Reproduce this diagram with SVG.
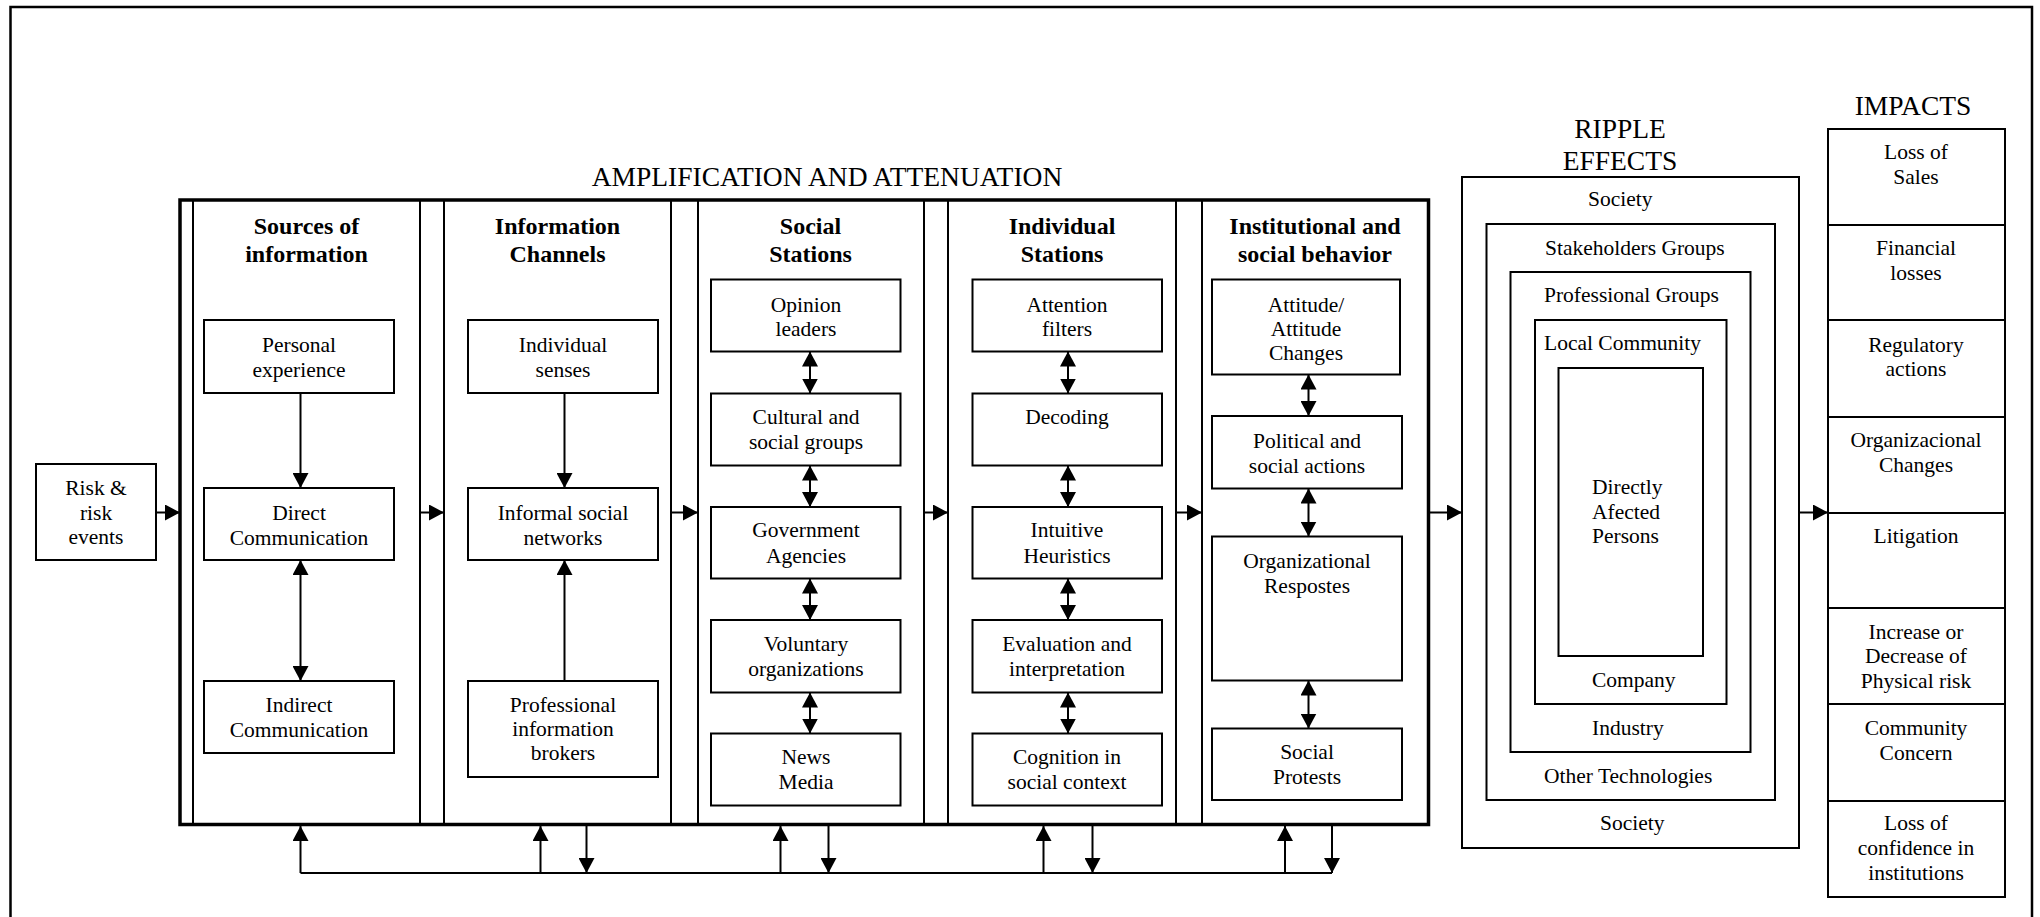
<svg xmlns="http://www.w3.org/2000/svg" width="2040" height="917" viewBox="0 0 2040 917">
  <style>
    .bg { fill: #ffffff; }
    .frame { fill: none; stroke: #000; stroke-width: 2.5; }
    .box { fill: #ffffff; stroke: #000; stroke-width: 2; }
    .col { fill: none; stroke: #000; stroke-width: 2; }
    .block { fill: none; stroke: #000; stroke-width: 3.5; }
    .ring { fill: #ffffff; stroke: #000; stroke-width: 2; }
    .c { fill: none; stroke: #000; stroke-width: 2; }
    .t { font-family: "Liberation Serif", "Times New Roman", serif; font-size: 21.5px; fill: #000; text-anchor: middle; }
    .ts { font-family: "Liberation Serif", "Times New Roman", serif; font-size: 21.5px; fill: #000; text-anchor: start; }
    .h { font-family: "Liberation Serif", "Times New Roman", serif; font-size: 24px; font-weight: bold; fill: #000; text-anchor: middle; }
    .title { font-family: "Liberation Serif", "Times New Roman", serif; font-size: 27.5px; fill: #000; text-anchor: middle; }
  </style>
  <defs>
    <marker id="ah" viewBox="0 0 15 16" refX="15" refY="8" markerWidth="15" markerHeight="16" markerUnits="userSpaceOnUse" orient="auto-start-reverse">
      <path d="M0,0 L15,8 L0,16 Z" fill="#000"/>
    </marker>
  </defs>

  <rect class="bg" x="0" y="0" width="2040" height="917"/>
  <!-- outer figure frame (bottom edge runs past the canvas) -->
  <rect class="frame" x="10.5" y="7" width="2021.5" height="930"/>

  <!-- section titles -->
  <text class="title" x="827" y="186">AMPLIFICATION AND ATTENUATION</text>
  <text class="title" x="1620" y="137.5">RIPPLE</text>
  <text class="title" x="1620" y="170">EFFECTS</text>
  <text class="title" x="1913" y="115">IMPACTS</text>

  <!-- starting event -->
  <g id="risk-events">
    <rect class="box" x="36" y="464" width="120" height="96"/>
    <text class="t" x="96" y="495">Risk &amp;</text>
    <text class="t" x="96" y="519.5">risk</text>
    <text class="t" x="96" y="544">events</text>
  </g>

  <!-- amplification block and its five stations -->
  <g id="amplification-block">
    <rect class="block" x="180" y="200" width="1248.5" height="624.5"/>
  </g>

  <g id="sources-of-information">
    <rect class="col" x="193" y="200" width="227" height="624.5"/>
    <text class="h" x="306.5" y="234">Sources of</text>
    <text class="h" x="306.5" y="262">information</text>
    <g id="personal-experience">
      <rect class="box" x="204" y="320" width="190" height="73"/>
      <text class="t" x="299" y="352">Personal</text>
      <text class="t" x="299" y="376.5">experience</text>
    </g>
    <g id="direct-communication">
      <rect class="box" x="204" y="488" width="190" height="72"/>
      <text class="t" x="299" y="520">Direct</text>
      <text class="t" x="299" y="544.5">Communication</text>
    </g>
    <g id="indirect-communication">
      <rect class="box" x="204" y="681" width="190" height="72"/>
      <text class="t" x="299" y="712">Indirect</text>
      <text class="t" x="299" y="736.5">Communication</text>
    </g>
  </g>

  <g id="information-channels">
    <rect class="col" x="444" y="200" width="227" height="624.5"/>
    <text class="h" x="557.5" y="234">Information</text>
    <text class="h" x="557.5" y="262">Channels</text>
    <g id="individual-senses">
      <rect class="box" x="468" y="320" width="190" height="73"/>
      <text class="t" x="563" y="352">Individual</text>
      <text class="t" x="563" y="376.5">senses</text>
    </g>
    <g id="informal-social-networks">
      <rect class="box" x="468" y="488" width="190" height="72"/>
      <text class="t" x="563" y="520">Informal social</text>
      <text class="t" x="563" y="544.5">networks</text>
    </g>
    <g id="professional-information-brokers">
      <rect class="box" x="468" y="681" width="190" height="96"/>
      <text class="t" x="563" y="712">Professional</text>
      <text class="t" x="563" y="736">information</text>
      <text class="t" x="563" y="760">brokers</text>
    </g>
  </g>

  <g id="social-stations">
    <rect class="col" x="698" y="200" width="226" height="624.5"/>
    <text class="h" x="810.5" y="234">Social</text>
    <text class="h" x="810.5" y="262">Stations</text>
    <g id="opinion-leaders">
      <rect class="box" x="711" y="279.5" width="189.5" height="72"/>
      <text class="t" x="806" y="311.5">Opinion</text>
      <text class="t" x="806" y="336">leaders</text>
    </g>
    <g id="cultural-social-groups">
      <rect class="box" x="711" y="393.5" width="189.5" height="72"/>
      <text class="t" x="806" y="424">Cultural and</text>
      <text class="t" x="806" y="449">social groups</text>
    </g>
    <g id="government-agencies">
      <rect class="box" x="711" y="507" width="189.5" height="71.5"/>
      <text class="t" x="806" y="537">Government</text>
      <text class="t" x="806" y="562.5">Agencies</text>
    </g>
    <g id="voluntary-organizations">
      <rect class="box" x="711" y="620" width="189.5" height="72.5"/>
      <text class="t" x="806" y="651">Voluntary</text>
      <text class="t" x="806" y="676">organizations</text>
    </g>
    <g id="news-media">
      <rect class="box" x="711" y="733.5" width="189.5" height="72"/>
      <text class="t" x="806" y="763.5">News</text>
      <text class="t" x="806" y="789">Media</text>
    </g>
  </g>

  <g id="individual-stations">
    <rect class="col" x="948" y="200" width="228" height="624.5"/>
    <text class="h" x="1062" y="234">Individual</text>
    <text class="h" x="1062" y="262">Stations</text>
    <g id="attention-filters">
      <rect class="box" x="972.5" y="279.5" width="189.5" height="72"/>
      <text class="t" x="1067" y="311.5">Attention</text>
      <text class="t" x="1067" y="336">filters</text>
    </g>
    <g id="decoding">
      <rect class="box" x="972.5" y="393.5" width="189.5" height="72"/>
      <text class="t" x="1067" y="424">Decoding</text>
    </g>
    <g id="intuitive-heuristics">
      <rect class="box" x="972.5" y="507" width="189.5" height="71.5"/>
      <text class="t" x="1067" y="537">Intuitive</text>
      <text class="t" x="1067" y="562.5">Heuristics</text>
    </g>
    <g id="evaluation-interpretation">
      <rect class="box" x="972.5" y="620" width="189.5" height="72.5"/>
      <text class="t" x="1067" y="651">Evaluation and</text>
      <text class="t" x="1067" y="676">interpretation</text>
    </g>
    <g id="cognition-social-context">
      <rect class="box" x="972.5" y="733.5" width="189.5" height="72"/>
      <text class="t" x="1067" y="763.5">Cognition in</text>
      <text class="t" x="1067" y="789">social context</text>
    </g>
  </g>

  <g id="institutional-social-behavior">
    <rect class="col" x="1202" y="200" width="226.5" height="624.5"/>
    <text class="h" x="1315" y="234">Institutional and</text>
    <text class="h" x="1315" y="262">social behavior</text>
    <g id="attitude-changes">
      <rect class="box" x="1212" y="279.5" width="188" height="95"/>
      <text class="t" x="1306" y="311.5">Attitude/</text>
      <text class="t" x="1306" y="335.5">Attitude</text>
      <text class="t" x="1306" y="359.5">Changes</text>
    </g>
    <g id="political-social-actions">
      <rect class="box" x="1212" y="416" width="190" height="72.5"/>
      <text class="t" x="1307" y="447.5">Political and</text>
      <text class="t" x="1307" y="472.5">social actions</text>
    </g>
    <g id="organizational-responses">
      <rect class="box" x="1212" y="536.5" width="190" height="144"/>
      <text class="t" x="1307" y="567.5">Organizational</text>
      <text class="t" x="1307" y="592.5">Respostes</text>
    </g>
    <g id="social-protests">
      <rect class="box" x="1212" y="728.5" width="190" height="71.5"/>
      <text class="t" x="1307" y="759">Social</text>
      <text class="t" x="1307" y="784">Protests</text>
    </g>
  </g>

  <!-- ripple effects: nested rings -->
  <g id="ripple-society">
    <rect class="ring" x="1462" y="177" width="337" height="671"/>
    <text class="ts" x="1588" y="206">Society</text>
    <text class="ts" x="1600" y="830">Society</text>
  </g>
  <g id="ripple-stakeholders">
    <rect class="ring" x="1486.5" y="224" width="288.5" height="576"/>
    <text class="ts" x="1545" y="255">Stakeholders Groups</text>
    <text class="ts" x="1544" y="783">Other Technologies</text>
  </g>
  <g id="ripple-professional">
    <rect class="ring" x="1510.5" y="272" width="240" height="480"/>
    <text class="ts" x="1544" y="302">Professional Groups</text>
    <text class="ts" x="1592" y="735">Industry</text>
  </g>
  <g id="ripple-local-community">
    <rect class="ring" x="1535" y="320" width="191.5" height="384"/>
    <text class="ts" x="1544" y="350">Local Community</text>
    <text class="ts" x="1592" y="687">Company</text>
  </g>
  <g id="ripple-directly-affected">
    <rect class="ring" x="1558.5" y="368" width="144.5" height="288"/>
    <text class="ts" x="1592" y="494">Directly</text>
    <text class="ts" x="1592" y="519">Afected</text>
    <text class="ts" x="1592" y="543">Persons</text>
  </g>

  <!-- impacts column -->
  <g id="impact-loss-of-sales">
    <rect class="box" x="1828" y="129" width="177" height="96"/>
    <text class="t" x="1916" y="159">Loss of</text>
    <text class="t" x="1916" y="184">Sales</text>
  </g>
  <g id="impact-financial-losses">
    <rect class="box" x="1828" y="225" width="177" height="95"/>
    <text class="t" x="1916" y="255">Financial</text>
    <text class="t" x="1916" y="280">losses</text>
  </g>
  <g id="impact-regulatory-actions">
    <rect class="box" x="1828" y="320" width="177" height="97"/>
    <text class="t" x="1916" y="352">Regulatory</text>
    <text class="t" x="1916" y="376">actions</text>
  </g>
  <g id="impact-organizational-changes">
    <rect class="box" x="1828" y="417" width="177" height="96"/>
    <text class="t" x="1916" y="447">Organizacional</text>
    <text class="t" x="1916" y="472">Changes</text>
  </g>
  <g id="impact-litigation">
    <rect class="box" x="1828" y="513" width="177" height="95"/>
    <text class="t" x="1916" y="543">Litigation</text>
  </g>
  <g id="impact-physical-risk">
    <rect class="box" x="1828" y="608" width="177" height="96"/>
    <text class="t" x="1916" y="639">Increase or</text>
    <text class="t" x="1916" y="663">Decrease of</text>
    <text class="t" x="1916" y="688">Physical risk</text>
  </g>
  <g id="impact-community-concern">
    <rect class="box" x="1828" y="704" width="177" height="97"/>
    <text class="t" x="1916" y="735">Community</text>
    <text class="t" x="1916" y="760">Concern</text>
  </g>
  <g id="impact-loss-of-confidence">
    <rect class="box" x="1828" y="801" width="177" height="96"/>
    <text class="t" x="1916" y="830">Loss of</text>
    <text class="t" x="1916" y="855">confidence in</text>
    <text class="t" x="1916" y="880">institutions</text>
  </g>

  <!-- connectors -->
  <g id="connectors">
    <!-- main left-to-right flow -->
    <line class="c" x1="156" y1="512.5" x2="180" y2="512.5" marker-end="url(#ah)"/>
    <line class="c" x1="420" y1="512.5" x2="444" y2="512.5" marker-end="url(#ah)"/>
    <line class="c" x1="671" y1="512.5" x2="698" y2="512.5" marker-end="url(#ah)"/>
    <line class="c" x1="924" y1="512.5" x2="948" y2="512.5" marker-end="url(#ah)"/>
    <line class="c" x1="1176" y1="512.5" x2="1202" y2="512.5" marker-end="url(#ah)"/>
    <line class="c" x1="1428.5" y1="512.5" x2="1462" y2="512.5" marker-end="url(#ah)"/>
    <line class="c" x1="1799" y1="512.5" x2="1828" y2="512.5" marker-end="url(#ah)"/>

    <!-- sources of information -->
    <line class="c" x1="300.5" y1="393" x2="300.5" y2="488" marker-end="url(#ah)"/>
    <line class="c" x1="300.5" y1="560" x2="300.5" y2="681" marker-start="url(#ah)" marker-end="url(#ah)"/>

    <!-- information channels -->
    <line class="c" x1="564.5" y1="393" x2="564.5" y2="488" marker-end="url(#ah)"/>
    <line class="c" x1="564.5" y1="681" x2="564.5" y2="560" marker-end="url(#ah)"/>

    <!-- social stations -->
    <line class="c" x1="810" y1="351.5" x2="810" y2="393.5" marker-start="url(#ah)" marker-end="url(#ah)"/>
    <line class="c" x1="810" y1="465.5" x2="810" y2="507" marker-start="url(#ah)" marker-end="url(#ah)"/>
    <line class="c" x1="810" y1="578.5" x2="810" y2="620" marker-start="url(#ah)" marker-end="url(#ah)"/>
    <line class="c" x1="810" y1="692.5" x2="810" y2="733.5" marker-start="url(#ah)" marker-end="url(#ah)"/>

    <!-- individual stations -->
    <line class="c" x1="1068" y1="351.5" x2="1068" y2="393.5" marker-start="url(#ah)" marker-end="url(#ah)"/>
    <line class="c" x1="1068" y1="465.5" x2="1068" y2="507" marker-start="url(#ah)" marker-end="url(#ah)"/>
    <line class="c" x1="1068" y1="578.5" x2="1068" y2="620" marker-start="url(#ah)" marker-end="url(#ah)"/>
    <line class="c" x1="1068" y1="692.5" x2="1068" y2="733.5" marker-start="url(#ah)" marker-end="url(#ah)"/>

    <!-- institutional and social behavior -->
    <line class="c" x1="1308.5" y1="374.5" x2="1308.5" y2="416" marker-start="url(#ah)" marker-end="url(#ah)"/>
    <line class="c" x1="1308.5" y1="488.5" x2="1308.5" y2="536.5" marker-start="url(#ah)" marker-end="url(#ah)"/>
    <line class="c" x1="1308.5" y1="680.5" x2="1308.5" y2="728.5" marker-start="url(#ah)" marker-end="url(#ah)"/>

    <!-- feedback loop under the block -->
    <polyline class="c" points="300.5,873 1332,873"/>
    <line class="c" x1="300.5" y1="873" x2="300.5" y2="826" marker-end="url(#ah)"/>
    <line class="c" x1="540.5" y1="873" x2="540.5" y2="826" marker-end="url(#ah)"/>
    <line class="c" x1="586.5" y1="826" x2="586.5" y2="873" marker-end="url(#ah)"/>
    <line class="c" x1="780.5" y1="873" x2="780.5" y2="826" marker-end="url(#ah)"/>
    <line class="c" x1="828.5" y1="826" x2="828.5" y2="873" marker-end="url(#ah)"/>
    <line class="c" x1="1043.5" y1="873" x2="1043.5" y2="826" marker-end="url(#ah)"/>
    <line class="c" x1="1092.5" y1="826" x2="1092.5" y2="873" marker-end="url(#ah)"/>
    <line class="c" x1="1285" y1="873" x2="1285" y2="826" marker-end="url(#ah)"/>
    <line class="c" x1="1332" y1="826" x2="1332" y2="873" marker-end="url(#ah)"/>
  </g>
</svg>
